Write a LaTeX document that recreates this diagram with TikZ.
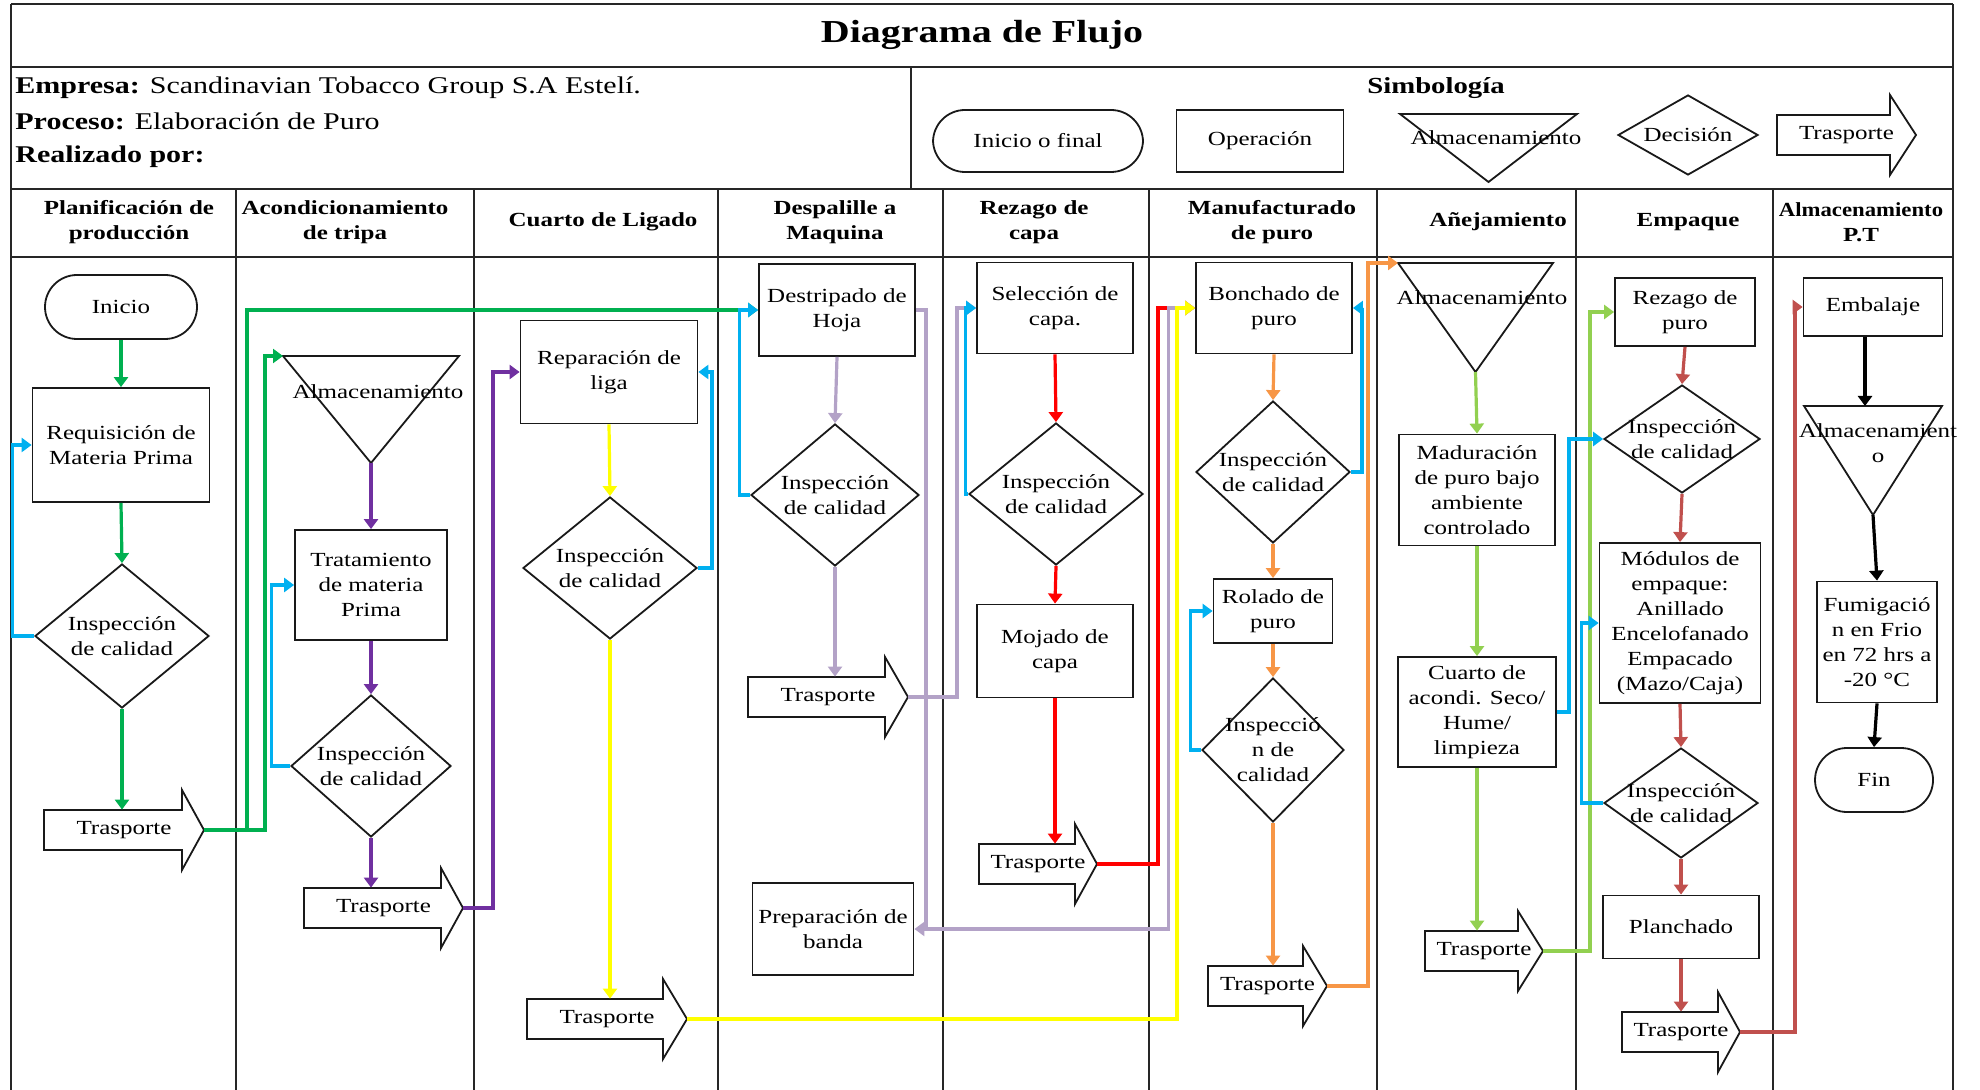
\documentclass[tikz,border=0pt]{standalone}
\usepackage{fontspec}
\setmainfont{Liberation Serif}[FakeStretch=1.25]
\usetikzlibrary{arrows.meta,shapes.geometric}

\definecolor{cgreen}{HTML}{00B050}
\definecolor{cblue}{HTML}{00B0F0}
\definecolor{cpurple}{HTML}{7030A0}
\definecolor{cyellow}{HTML}{FFFF00}
\definecolor{clav}{HTML}{B3A2C7}
\definecolor{cred}{HTML}{FF0000}
\definecolor{corange}{HTML}{F79646}
\definecolor{clgreen}{HTML}{92D050}
\definecolor{cbrown}{HTML}{C0504D}

% name, x left, x head base, x tip, y centre
\newcommand\trasporte[5]{%
  \draw[shapeline,fill=white] (#2,{#5-20}) -- (#3,{#5-20}) -- (#3,{#5-40}) -- (#4,#5)
     -- (#3,{#5+40}) -- (#3,{#5+20}) -- (#2,{#5+20}) -- cycle;
  \node[txt,minimum height=20pt] (#1) at ({(#2+#4)/2},#5) {Trasporte};
  \coordinate (#1-tip) at (#4,#5);
}
% name, x left, x right, y top, y apex
\newcommand\almac[5]{%
  \draw[shapeline] (#2,#4) -- (#3,#4) -- ({(#2+#3)/2},#5) -- cycle;
  \coordinate (#1-tl) at (#2,#4);
  \coordinate (#1-top) at ({(#2+#3)/2},#4);
  \coordinate (#1-apex) at ({(#2+#3)/2},#5);
}
% name, x, y, width, height, text
\newcommand\decis[6]{%
  \node[decbox,minimum width=#4,minimum height=#5] (#1) at (#2,#3) {};
  \node[txt] (#1-t) at (#1.center) {#6};
}

\begin{document}
\begin{tikzpicture}[x=0.5pt,y=-0.5pt,
  gridline/.style={line width=1pt,draw=black!85},
  shapeline/.style={line width=0.9pt,draw=black!90},
  txt/.style={font=\fontsize{10}{12.5}\selectfont,align=center,inner sep=0pt},
  procbox/.style={shapeline,rectangle,fill=white,txt},
  decbox/.style={shapeline,diamond,fill=white,inner sep=0pt,aspect=1},
  termbox/.style={shapeline,rectangle,rounded corners=16pt,fill=white,txt},
  hdr/.style={font=\bfseries\fontsize{10}{12.5}\selectfont,align=center,inner sep=0pt},
  info/.style={anchor=west,font=\fontsize{12}{14}\selectfont,inner sep=0pt},
  conn/.style={line width=1.6pt,-{Triangle[length=5pt,width=7pt]}}
]
\useasboundingbox (0,0) rectangle (1980,1090);

% ---------------- table ----------------
\draw[gridline] (11,4) -- (1953,4);
\draw[gridline] (11,67) -- (1953,67);
\draw[gridline] (11,189) -- (1953,189);
\draw[gridline] (11,257) -- (1953,257);
\draw[gridline] (11,4) -- (11,1100);
\draw[gridline] (1953,4) -- (1953,1100);
\draw[gridline] (911,67) -- (911,189);
\foreach \cx in {236,474,718,943,1149,1377,1576,1773}
  \draw[gridline] (\cx,189) -- (\cx,1100);

\node[font=\bfseries\fontsize{16}{19}\selectfont] (title) at (982,35) {Diagrama de Flujo};
\node[info] (empresa) at (15,88) {\textbf{Empresa:} Scandinavian Tobacco Group S.A Estelí.};
\node[info] (proceso) at (15,121) {\textbf{Proceso:} Elaboración de Puro};
\node[info] (realiz) at (15,157) {\textbf{Realizado por:}};
\node[font=\bfseries\fontsize{11.5}{14}\selectfont,inner sep=0pt] (simb) at (1436,88) {Simbología};

% legend
\node[termbox,minimum width=105pt,minimum height=31pt] (lgterm) at (1038,141) {Inicio o final};
\node[procbox,minimum width=83.5pt,minimum height=31pt] (lgop) at (1260,141) {Operación};
\almac{lgalm}{1400}{1577}{114}{182}
\node[txt] (lgalmt) at (1496,138) {Almacenamiento};
\decis{lgdec}{1688}{135}{70pt}{40pt}{Decisión}
\trasporte{lgtr}{1777}{1890}{1916}{135}

% headers
\node[hdr] (h1) at (129,222) {Planificación de\\producción};
\node[hdr] (h2) at (345,222) {Acondicionamiento\\de tripa};
\node[hdr] (h3) at (603,222) {Cuarto de Ligado};
\node[hdr] (h4) at (835,222) {Despalille a\\Maquina};
\node[hdr] (h5) at (1034,222) {Rezago de\\capa};
\node[hdr] (h6) at (1272,222) {Manufacturado\\de puro};
\node[hdr] (h7) at (1498,222) {Añejamiento};
\node[hdr] (h8) at (1688,222) {Empaque};
\node[hdr] (h9) at (1861,222) {\scalebox{0.91}[1]{Almacenamiento}\\P.T};

% ---------------- column 1 ----------------
\node[termbox,minimum width=76pt,minimum height=32pt] (inicio) at (121,307) {Inicio};
\node[procbox,minimum width=88.5pt,minimum height=57pt] (req) at (121,445) {Requisición de\\Materia Prima};
\decis{insp1}{122}{636}{87pt}{72pt}{Inspección\\de calidad}
\trasporte{t1}{44}{182}{204}{830}

% ---------------- column 2 ----------------
\almac{tri2}{283}{459}{356}{463}
\node[txt] (tri2t) at (378,392) {Almacenamiento};
\node[procbox,minimum width=76pt,minimum height=55pt] (trat) at (371,585) {Tratamiento\\de materia\\Prima};
\decis{insp2}{371}{766}{80pt}{71pt}{Inspección\\de calidad}
\trasporte{t2}{304}{441}{463}{908}

% ---------------- column 3 ----------------
\node[procbox,minimum width=88.5pt,minimum height=51.5pt] (rep) at (609,372) {Reparación de\\liga};
\decis{insp3}{610}{568}{87pt}{71pt}{Inspección\\de calidad}
\trasporte{t3}{527}{663}{687}{1019}

% ---------------- column 4 ----------------
\node[procbox,minimum width=78pt,minimum height=46pt] (dest) at (837,310) {Destripado de\\Hoja};
\decis{insp4}{835}{495}{84pt}{71pt}{Inspección\\de calidad}
\trasporte{t4}{748}{885}{908}{697}
\node[procbox,minimum width=80.5pt,minimum height=46pt] (prep) at (833,929) {Preparación de\\banda};

% ---------------- column 5 ----------------
\node[procbox,minimum width=78pt,minimum height=45.5pt] (sel) at (1055,308) {Selección de\\capa.};
\decis{insp5}{1056}{494}{87pt}{71pt}{Inspección\\de calidad}
\node[procbox,minimum width=78pt,minimum height=46.5pt] (moj) at (1055,651) {Mojado de\\capa};
\trasporte{t5}{979}{1075}{1097}{864}

% ---------------- column 6 ----------------
\node[procbox,minimum width=78pt,minimum height=45.5pt] (bon) at (1274,308) {Bonchado de\\puro};
\decis{insp6}{1273}{472}{77pt}{71pt}{Inspección\\de calidad}
\node[procbox,minimum width=59.5pt,minimum height=32pt] (rol) at (1273,611) {Rolado de\\puro};
\decis{insp7}{1273}{750}{71pt}{72pt}{Inspecció\\n de\\calidad}
\trasporte{t6}{1208}{1303}{1327}{986}

% ---------------- column 7 ----------------
\almac{tri7}{1398}{1553}{263}{372}
\node[txt] (tri7t) at (1482,298) {Almacenamiento};
\node[procbox,minimum width=78pt,minimum height=55.5pt] (mad) at (1477,490) {Maduración\\de puro bajo\\ambiente\\controlado};
\node[procbox,minimum width=79pt,minimum height=55pt] (cua) at (1477,712) {Cuarto de\\acondi. Seco/\\Hume/\\limpieza};
\trasporte{t7}{1425}{1518}{1543}{951}

% ---------------- column 8 ----------------
\node[procbox,minimum width=70pt,minimum height=34pt] (rez) at (1685,312) {Rezago de\\puro};
\decis{insp8}{1682}{439}{78pt}{54pt}{Inspección\\de calidad}
\node[procbox,minimum width=80.5pt,minimum height=80pt] (mod) at (1680,623) {Módulos de\\empaque:\\Anillado\\Encelofanado\\Empacado\\(Mazo/Caja)};
\decis{insp9}{1681}{803}{77pt}{55pt}{Inspección\\de calidad}
\node[procbox,minimum width=78pt,minimum height=31.5pt] (pla) at (1681,927) {Planchado};
\trasporte{t8}{1622}{1718}{1740}{1032}

% ---------------- column 9 ----------------
\node[procbox,minimum width=69.5pt,minimum height=29pt] (emb) at (1873,307) {Embalaje};
\almac{tri9}{1804}{1942}{406}{515}
\node[txt] (tri9t) at (1878,443) {Almacenamient\\o};
\node[procbox,minimum width=60pt,minimum height=60.5pt] (fum) at (1877,642) {Fumigació\\n en Frio\\en 72 hrs a\\-20 °C};
\node[termbox,minimum width=59pt,minimum height=32pt] (fin) at (1874,780) {Fin};

% ================ connectors ================
% column 1
\draw[conn,cgreen] (inicio.south) -- (req.north);
\draw[conn,cgreen] (req.south) -- (insp1.north);
\draw[conn,cgreen] (insp1.south) -- (insp1.south |- t1.north);
\draw[conn,cblue] (insp1.west) -- ++(-22,0) |- (req.west);
\draw[conn,cgreen] (t1-tip) -- ++(43,0) |- (dest.west);
\draw[conn,cgreen] (t1-tip) -- ++(61,0) |- (tri2-tl);

% column 2
\draw[conn,cpurple] (tri2-apex) -- (trat.north);
\draw[conn,cpurple] (trat.south) -- (insp2.north);
\draw[conn,cpurple] (insp2.south) -- (insp2.south |- t2.north);
\draw[conn,cblue] (insp2.west) -- ++(-19,0) |- (trat.west);
\draw[conn,cpurple] (t2-tip) -- ++(30,0) |- (rep.west);

% column 3
\draw[conn,cyellow] (rep.south) -- (insp3.north);
\draw[conn,cyellow] (insp3.south) -- (insp3.south |- t3.north);
\draw[conn,cblue] (insp3.east) -- ++(14,0) |- (rep.east);

% column 4
\draw[conn,clav] (dest.south) -- (insp4.north);
\draw[conn,clav] (insp4.south) -- (insp4.south |- t4.north);
\draw[conn,cblue] (insp4.west) -- ++(-11,0) |- (dest.west);
\draw[conn,clav] (dest.east) -- ++(10,0) |- (prep.east);
\draw[conn,clav] (t4-tip) -- ++(49,0) |- (sel.west);

% column 5
\draw[conn,cred] (sel.south) -- (insp5.north);
\draw[conn,cred] (insp5.south) -- (moj.north);
\draw[conn,cred] (moj.south) -- (moj.south |- t5.north);
\draw[conn,cblue] (insp5.west) -- ++(-3,0) |- (sel.west);

% into Bonchado
\draw[conn,cred] (t5-tip) -- ++(61,0) |- (bon.west);
\draw[conn,clav] ([xshift=5.5pt]prep.east) -- ++(243,0) |- (bon.west);
\draw[conn,cyellow] (t3-tip) -- ++(490,0) |- (bon.west);

% column 6
\draw[conn,corange] (bon.south) -- (insp6.north);
\draw[conn,corange] (insp6.south) -- (rol.north);
\draw[conn,corange] (rol.south) -- (insp7.north);
\draw[conn,corange] (insp7.south) -- (insp7.south |- t6.north);
\draw[conn,cblue] (insp6.east) -- ++(11,0) |- (bon.east);
\draw[conn,cblue] (insp7.west) -- ++(-11,0) |- (rol.west);
\draw[conn,corange] (t6-tip) -- ++(41,0) |- (tri7-tl);

% column 7
\draw[conn,clgreen] (tri7-apex) -- (mad.north);
\draw[conn,clgreen] (mad.south) -- (cua.north);
\draw[conn,clgreen] (cua.south) -- (cua.south |- t7.north);
\draw[conn,clgreen] (t7-tip) -- ++(47,0) |- (rez.west);
\draw[conn,cblue] (cua.east) -- ++(12,0) |- (insp8.west);

% column 8
\draw[conn,cbrown] (rez.south) -- (insp8.north);
\draw[conn,cbrown] (insp8.south) -- (mod.north);
\draw[conn,cbrown] (mod.south) -- (insp9.north);
\draw[conn,cbrown] (insp9.south) -- (pla.north);
\draw[conn,cbrown] (pla.south) -- (pla.south |- t8.north);
\draw[conn,cblue] (insp9.west) -- ++(-22,0) |- (mod.west);
\draw[conn,cbrown] (t8-tip) -- ++(55,0) |- (emb.west);

% column 9
\draw[conn,black] ([xshift=-4pt]emb.south) -- ([xshift=-4pt]emb.south |- tri9-top);
\draw[conn,black] (tri9-apex) -- (fum.north);
\draw[conn,black] (fum.south) -- (fin.north);
\end{tikzpicture}
\end{document}
